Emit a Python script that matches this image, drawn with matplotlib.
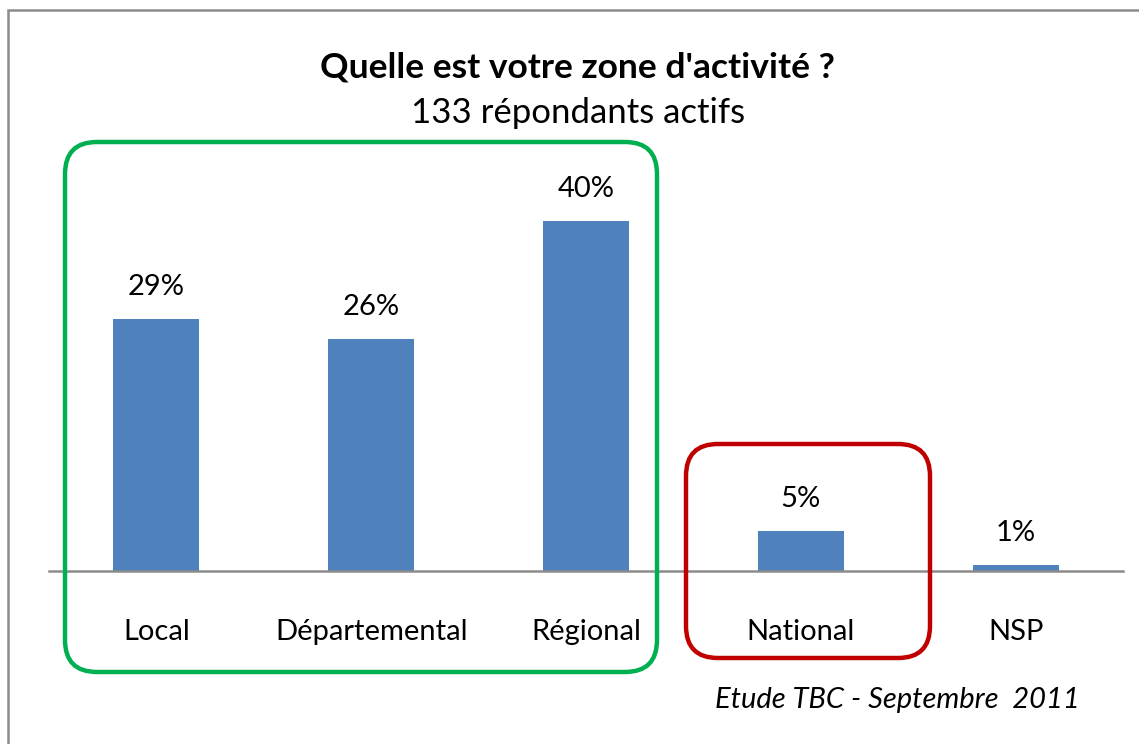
import matplotlib
matplotlib.use('Agg')
import matplotlib.pyplot as plt
from matplotlib.patches import FancyBboxPatch, Rectangle

plt.rcParams['font.family'] = ['Lato', 'DejaVu Sans']

# Data (bar heights, labels as printed)
categories = ['Local', 'Départemental', 'Régional', 'National', 'NSP']
values = [28.7, 26.4, 39.9, 4.6, 0.7]
value_labels = ['29%', '26%', '40%', '5%', '1%']

title = "Quelle est votre zone d'activité ?"
subtitle = "133 répondants actifs"
footnote = "Etude TBC - Septembre  2011"

W, H = 1139, 744
PT = 72 / 100  # points per pixel at dpi 100
fig = plt.figure(figsize=(W / 100, H / 100), dpi=100)

# axes placed in pixel coordinates: x 49..1123, baseline at y 571
ax_left, ax_right = 49, 1123
ax_bottom, ax_top = 571, 176
ax = fig.add_axes([ax_left / W, 1 - ax_bottom / H,
                   (ax_right - ax_left) / W, (ax_bottom - ax_top) / H])

x = list(range(len(categories)))
ax.bar(x, values, width=0.4, color='#4F81BD', zorder=2)
for xi, v, lab in zip(x, values, value_labels):
    ax.annotate(lab, (xi, v), xytext=(0, 24 * PT), textcoords='offset points',
                ha='center', va='baseline', fontsize=21)
for xi, cat in zip(x, categories):
    ax.annotate(cat, (xi, 0), xytext=(0, -69 * PT), textcoords='offset points',
                ha='center', va='baseline', fontsize=21, annotation_clip=False)

ax.set_xlim(-0.5, len(categories) - 0.5)
ax.set_ylim(0, 45)
ax.set_yticks([])
ax.set_xticks([])
for s in ['top', 'right', 'left']:
    ax.spines[s].set_visible(False)
ax.spines['bottom'].set_color('#8C8C8C')
ax.spines['bottom'].set_linewidth(1.8)

# titles
fig.text(577 / W, 1 - 77 / H, title, ha='center', va='baseline',
         fontsize=25.5, fontweight='bold')
fig.text(578 / W, 1 - 123 / H, subtitle, ha='center', va='baseline',
         fontsize=25)
fig.text(1080 / W, 1 - 708 / H, footnote, ha='right', va='baseline',
         fontsize=21, style='italic')

# outer border
fig.patches.append(Rectangle((8 / W, -0.1), 1.2, 1 - 10 / H + 0.1,
                             transform=fig.transFigure, fill=False,
                             edgecolor='#8C8C8C', linewidth=1.8))


def rounded_box(x0, y0, x1, y1, color):
    r = 32
    box = FancyBboxPatch((x0 + r, H - y1 + r), (x1 - x0) - 2 * r, (y1 - y0) - 2 * r,
                         boxstyle='round,pad=%d' % r, fill=False,
                         edgecolor=color, linewidth=3.2,
                         transform=None, zorder=5)
    fig.patches.append(box)


rounded_box(65, 142, 657, 672, '#00B050')
rounded_box(686, 444, 930, 658, '#C00000')

fig.savefig('out.png', dpi=100)
